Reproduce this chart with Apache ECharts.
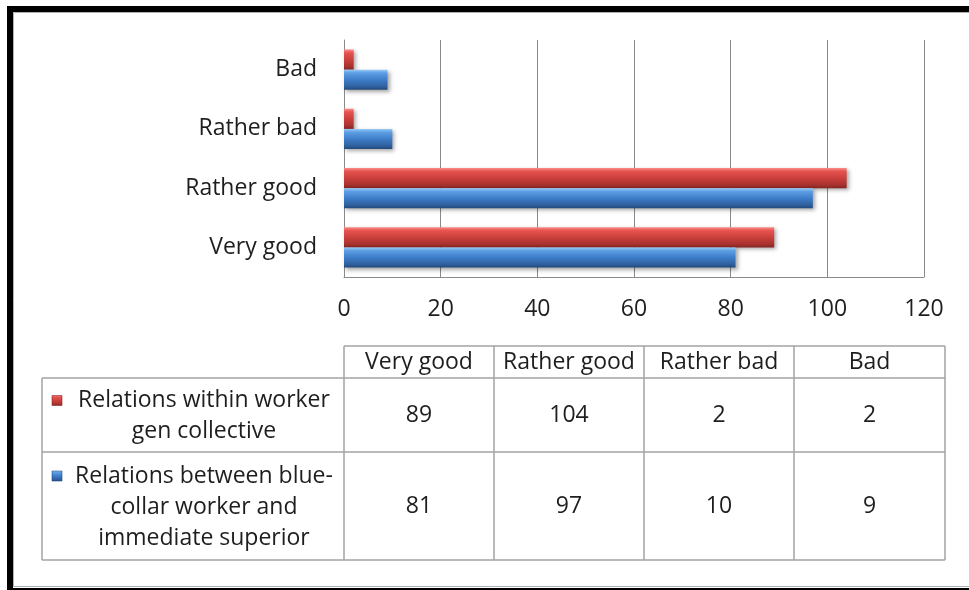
<!DOCTYPE html>
<html>
<head>
<meta charset="utf-8">
<script src="https://cdn.jsdelivr.net/npm/echarts@6/dist/echarts.min.js"></script>
<style>
  html, body { margin: 0; padding: 0; background: #ffffff; }
  #chart { width: 969px; height: 590px; }
</style>
</head>
<body>
<div id="chart"></div>
<script>
// Survey answers, bottom to top on the category axis
const categories = ['Very good', 'Rather good', 'Rather bad', 'Bad'];

// Series labels as they wrap inside the data table
const collectiveName = ['Relations within worker', 'gen collective'];
const superiorName = ['Relations between blue-', 'collar worker and', 'immediate superior'];

// Series values, in category order
const collectiveValues = [89, 104, 2, 2];
const superiorValues = [81, 97, 10, 9];

// Value axis range
const axisMin = 0;
const axisMax = 120;
const axisStep = 20;

const FONT = "'Open Sans', sans-serif";
const TEXT = '#1e1e1e';
const GRID_LINE = '#8a8a8a';
const TABLE_LINE = '#a3a3a3';

function bevel(stops) {
  return new echarts.graphic.LinearGradient(0, 0, 0, 1,
    stops.map(([offset, color]) => ({ offset, color })));
}
const redFill = () => bevel([[0, '#FA8E8A'], [0.16, '#E65450'], [0.5, '#CC403C'], [0.84, '#A8322F'], [1, '#842624']]);
const blueFill = () => bevel([[0, '#9ACDF8'], [0.16, '#5E9FE4'], [0.5, '#3E7DCA'], [0.84, '#2F609D'], [1, '#22487A']]);

const chart = echarts.init(document.getElementById('chart'));

// ---- data table under the plot ----
const colEdges = [344, 494, 644, 794, 945];
const headerTop = 346, row1Top = 378, row2Top = 452, tableBottom = 560, tableLeft = 42;
const lineHeight = 31;

const tableGraphics = [];
function hLine(x1, x2, y) {
  tableGraphics.push({ type: 'line', shape: { x1, y1: y, x2, y2: y },
    style: { stroke: TABLE_LINE, lineWidth: 1.5 }, silent: true });
}
function vLine(x, y1, y2) {
  tableGraphics.push({ type: 'line', shape: { x1: x, y1, x2: x, y2 },
    style: { stroke: TABLE_LINE, lineWidth: 1.5 }, silent: true });
}
function cellText(text, x, y) {
  tableGraphics.push({ type: 'text', x, y, silent: true,
    style: { text, font: '23px ' + FONT, fill: TEXT, align: 'center', verticalAlign: 'middle' } });
}

hLine(colEdges[0], colEdges[4], headerTop);
hLine(tableLeft, colEdges[4], row1Top);
hLine(tableLeft, colEdges[4], row2Top);
hLine(tableLeft, colEdges[4], tableBottom);
vLine(tableLeft, row1Top, tableBottom);
colEdges.forEach(x => vLine(x, headerTop, tableBottom));

categories.forEach((name, i) => {
  const cx = (colEdges[i] + colEdges[i + 1]) / 2;
  cellText(name, cx, (headerTop + row1Top) / 2);
  cellText(String(collectiveValues[i]), cx, (row1Top + row2Top) / 2);
  cellText(String(superiorValues[i]), cx, (row2Top + tableBottom) / 2);
});

function seriesLabel(lines, top, bottom, fill, edge) {
  const mid = (top + bottom) / 2;
  const first = mid - (lines.length - 1) * lineHeight / 2 + 1;
  lines.forEach((t, k) => cellText(t, 204, first + k * lineHeight));
  tableGraphics.push({ type: 'rect', silent: true,
    shape: { x: 52, y: first - 5, width: 10, height: 10 },
    style: { fill, stroke: edge, lineWidth: 0.6 } });
}
seriesLabel(collectiveName, row1Top, row2Top, redFill(), '#8A2927');
seriesLabel(superiorName, row2Top, tableBottom, blueFill(), '#244C7E');

// ---- outer frame ----
const frame = [
  { type: 'rect', silent: true, z: -1,
    shape: { x: 10, y: 9, width: 1000, height: 582 },
    style: { fill: 'none', stroke: '#000000', lineWidth: 6 } },
  { type: 'rect', silent: true, z: -1,
    shape: { x: 13.5, y: 12.5, width: 1000, height: 574 },
    style: { fill: 'none', stroke: '#b0b0b0', lineWidth: 1 } }
];

const barShadow = {
  shadowColor: 'rgba(0,0,0,0.35)', shadowBlur: 4, shadowOffsetX: 2, shadowOffsetY: 2
};

chart.setOption({
  animation: false,
  backgroundColor: '#ffffff',
  textStyle: { fontFamily: FONT },
  grid: { left: 344, right: 45, top: 40, bottom: 313, containLabel: false },
  xAxis: {
    type: 'value',
    min: axisMin, max: axisMax, interval: axisStep,
    axisLine: { show: true, lineStyle: { color: GRID_LINE, width: 1 } },
    axisTick: { show: false },
    splitLine: { show: true, lineStyle: { color: GRID_LINE, width: 1 } },
    axisLabel: { fontSize: 23, color: TEXT, margin: 21, fontFamily: FONT }
  },
  yAxis: {
    type: 'category',
    data: categories,
    axisLine: { show: true, lineStyle: { color: GRID_LINE, width: 1 } },
    axisTick: { show: false },
    splitLine: { show: false },
    axisLabel: { fontSize: 23, color: TEXT, margin: 27, fontFamily: FONT }
  },
  series: [
    {
      name: collectiveName.join(' '),
      type: 'bar',
      data: collectiveValues,
      barGap: '0%',
      barCategoryGap: '32%',
      itemStyle: Object.assign({ color: redFill() }, barShadow)
    },
    {
      name: superiorName.join(' '),
      type: 'bar',
      data: superiorValues,
      barGap: '0%',
      barCategoryGap: '32%',
      itemStyle: Object.assign({ color: blueFill() }, barShadow)
    }
  ],
  graphic: frame.concat(tableGraphics)
});
</script>
</body>
</html>
